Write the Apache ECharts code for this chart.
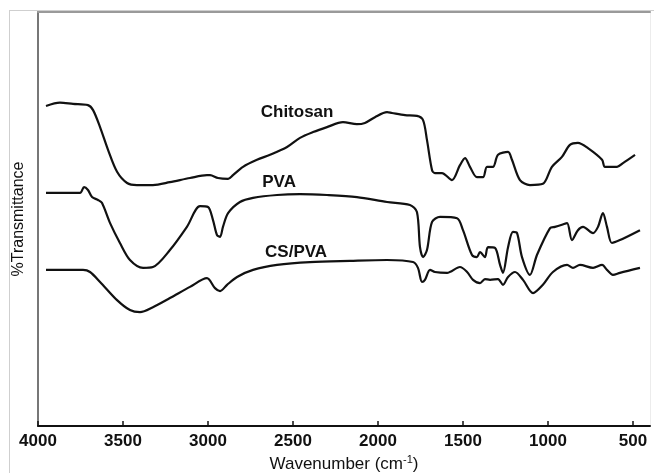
<!DOCTYPE html>
<html>
<head>
<meta charset="utf-8">
<script src="https://cdn.jsdelivr.net/npm/echarts@6/dist/echarts.min.js"></script>
<style>
html,body{margin:0;padding:0;background:#fff;}
#wrap{position:relative;width:654px;height:473px;}
#frame{position:absolute;left:9px;top:10px;right:0;bottom:0;border-left:1px solid #cfcfcf;border-top:1px solid #cfcfcf;}
#chart{position:absolute;left:0;top:0;width:654px;height:473px;}
</style>
</head>
<body>
<div id="wrap"><div id="frame"></div><div id="chart"></div></div>
<script>
// wavenumber (cm-1) and % transmittance (arbitrary offset scale)
const chitosanWn = [3953,3871,3794,3706,3676,3635,3588,3535,3476,3418,3324,3224,3106,3006,2988,2941,2882,2853,2794,2712,2635,2535,2459,2382,2300,2206,2124,2077,2018,1947,1918,1841,1771,1735,1712,1682,1665,1624,1565,1518,1488,1459,1418,1382,1359,1324,1294,1235,1212,1165,1106,1030,977,918,871,824,765,682,665,594,559,488];
const chitosanT  = [77.3,78.1,77.8,77.5,76.3,72.2,66.7,61.4,58.7,58.2,58.2,58.9,59.9,60.6,60.6,59.9,59.7,60.6,62.6,64.3,65.5,67.4,69.6,71.0,72.2,73.4,72.9,73.2,74.6,75.8,75.6,75.1,74.9,73.9,69.1,61.8,61.1,61.1,59.4,63.0,64.7,62.6,60.1,60.1,62.6,62.6,65.5,66.2,64.3,59.4,58.2,58.5,62.6,65.0,67.9,68.4,67.1,64.3,62.6,62.6,63.5,65.5];

const pvaWn = [3953,3753,3729,3706,3682,3647,3624,3576,3518,3459,3382,3324,3224,3124,3047,3000,2971,2947,2929,2912,2882,2812,2735,2594,2459,2300,2124,1947,1812,1771,1753,1735,1712,1682,1635,1535,1500,1447,1418,1400,1371,1353,1312,1282,1265,1235,1206,1182,1153,1106,1065,988,959,918,888,859,824,794,735,706,677,653,624,577,459];
const pvaT  = [56.3,56.3,57.7,57.0,55.3,54.6,53.9,49.0,44.2,40.1,38.2,38.4,42.5,48.1,53.1,52.9,49.8,46.1,45.7,48.1,51.4,54.1,55.1,55.8,56.0,55.8,55.3,54.1,53.4,51.7,43.2,40.8,42.5,49.3,50.5,50.2,47.3,41.3,40.8,42.0,40.8,43.2,43.0,38.9,37.0,43.2,46.9,46.6,40.8,36.5,41.3,47.8,48.1,48.6,49.0,44.9,47.3,48.1,46.6,48.1,51.4,48.1,44.2,44.9,47.3];

const cspvaWn = [3953,3735,3694,3635,3535,3459,3400,3324,3224,3106,3006,2959,2929,2888,2829,2735,2594,2400,2165,1947,1794,1765,1741,1724,1694,1665,1594,1518,1476,1441,1400,1371,1341,1294,1265,1235,1194,1147,1088,1030,971,888,853,812,735,682,653,618,577,459];
const cspvaT  = [37.7,37.7,37.2,34.8,30.4,28.0,27.5,28.7,30.9,33.6,35.7,33.3,32.6,34.1,36.0,37.7,38.9,39.6,39.9,40.1,39.6,38.2,34.8,35.3,37.7,37.2,37.0,38.4,37.2,35.3,34.5,35.5,35.3,35.5,34.1,36.0,37.2,35.3,32.1,34.1,37.2,38.9,38.2,38.9,38.2,38.9,37.7,36.5,37.0,38.2];

const tickValues = [4000,3500,3000,2500,2000,1500,1000,500];
const tickLabels = ['4000','3500','3000','2500','2000','1500','1000','500'];

const labelNames = ['Chitosan','PVA','CS/PVA'];
const labelWn = [2476,2582,2482];
const labelT  = [75.8,58.9,42.0];

const zip = (a,b) => a.map((v,i)=>[v,b[i]]);
const lineSeries = (name, wn, t) => ({
  name, type:'line', data: zip(wn,t), showSymbol:false, smooth:0.3,
  lineStyle:{color:'#111', width:2.2}, silent:true, z:3
});
const FONT = 'Liberation Sans, Arial, sans-serif';

const chart = echarts.init(document.getElementById('chart'), null, {renderer:'canvas'});
chart.setOption({
  animation:false,
  backgroundColor:'transparent',
  grid:{left:38, right:4, top:12, bottom:47, containLabel:false, outerBoundsMode:'none'},
  xAxis:[{
    type:'value', min:400, max:4000, inverse:true, position:'bottom',
    axisLine:{show:true, onZero:false, lineStyle:{color:'#111', width:2}},
    axisTick:{show:true, inside:true, length:5, customValues:tickValues, lineStyle:{color:'#111', width:1.5}},
    axisLabel:{customValues:tickValues, formatter:v=>tickLabels[tickValues.indexOf(v)], fontSize:17, fontWeight:'bold', color:'#111', margin:7, fontFamily:FONT},
    splitLine:{show:false},
    name:'{a|Wavenumber (cm}{s|-1}{a|)}', nameLocation:'middle', nameGap:26,
    nameTextStyle:{rich:{
      a:{fontSize:17, color:'#111', fontFamily:FONT},
      s:{fontSize:11, color:'#111', verticalAlign:'top', padding:[0,0,8,0], fontFamily:FONT}
    }}
  },{
    type:'value', min:400, max:4000, inverse:true, position:'top',
    axisLine:{show:true, onZero:false, lineStyle:{color:'#9a9a9a', width:2}},
    axisTick:{show:false}, axisLabel:{show:false}, splitLine:{show:false}
  }],
  yAxis:[{
    type:'value', min:0, max:100, position:'left',
    axisLine:{show:true, onZero:false, lineStyle:{color:'#777', width:2}},
    axisTick:{show:false}, axisLabel:{show:false}, splitLine:{show:false},
    name:'%Transmittance', nameLocation:'middle', nameGap:11,
    nameTextStyle:{fontSize:16, color:'#111', fontFamily:FONT}
  },{
    type:'value', min:0, max:100, position:'right',
    axisLine:{show:true, onZero:false, lineStyle:{color:'#ececec', width:1}},
    axisTick:{show:false}, axisLabel:{show:false}, splitLine:{show:false}
  }],
  series:[
    lineSeries('Chitosan', chitosanWn, chitosanT),
    lineSeries('PVA', pvaWn, pvaT),
    lineSeries('CS/PVA', cspvaWn, cspvaT),
    {
      type:'scatter', symbolSize:0, silent:true, z:4,
      itemStyle:{opacity:1},
      data: labelNames.map((n,i)=>({value:[labelWn[i], labelT[i]], name:n})),
      label:{show:true, position:'inside', formatter:p=>p.name, fontSize:17, fontWeight:'bold', color:'#111', opacity:1, textBorderWidth:0, fontFamily:FONT}
    }
  ]
});
</script>
</body>
</html>
